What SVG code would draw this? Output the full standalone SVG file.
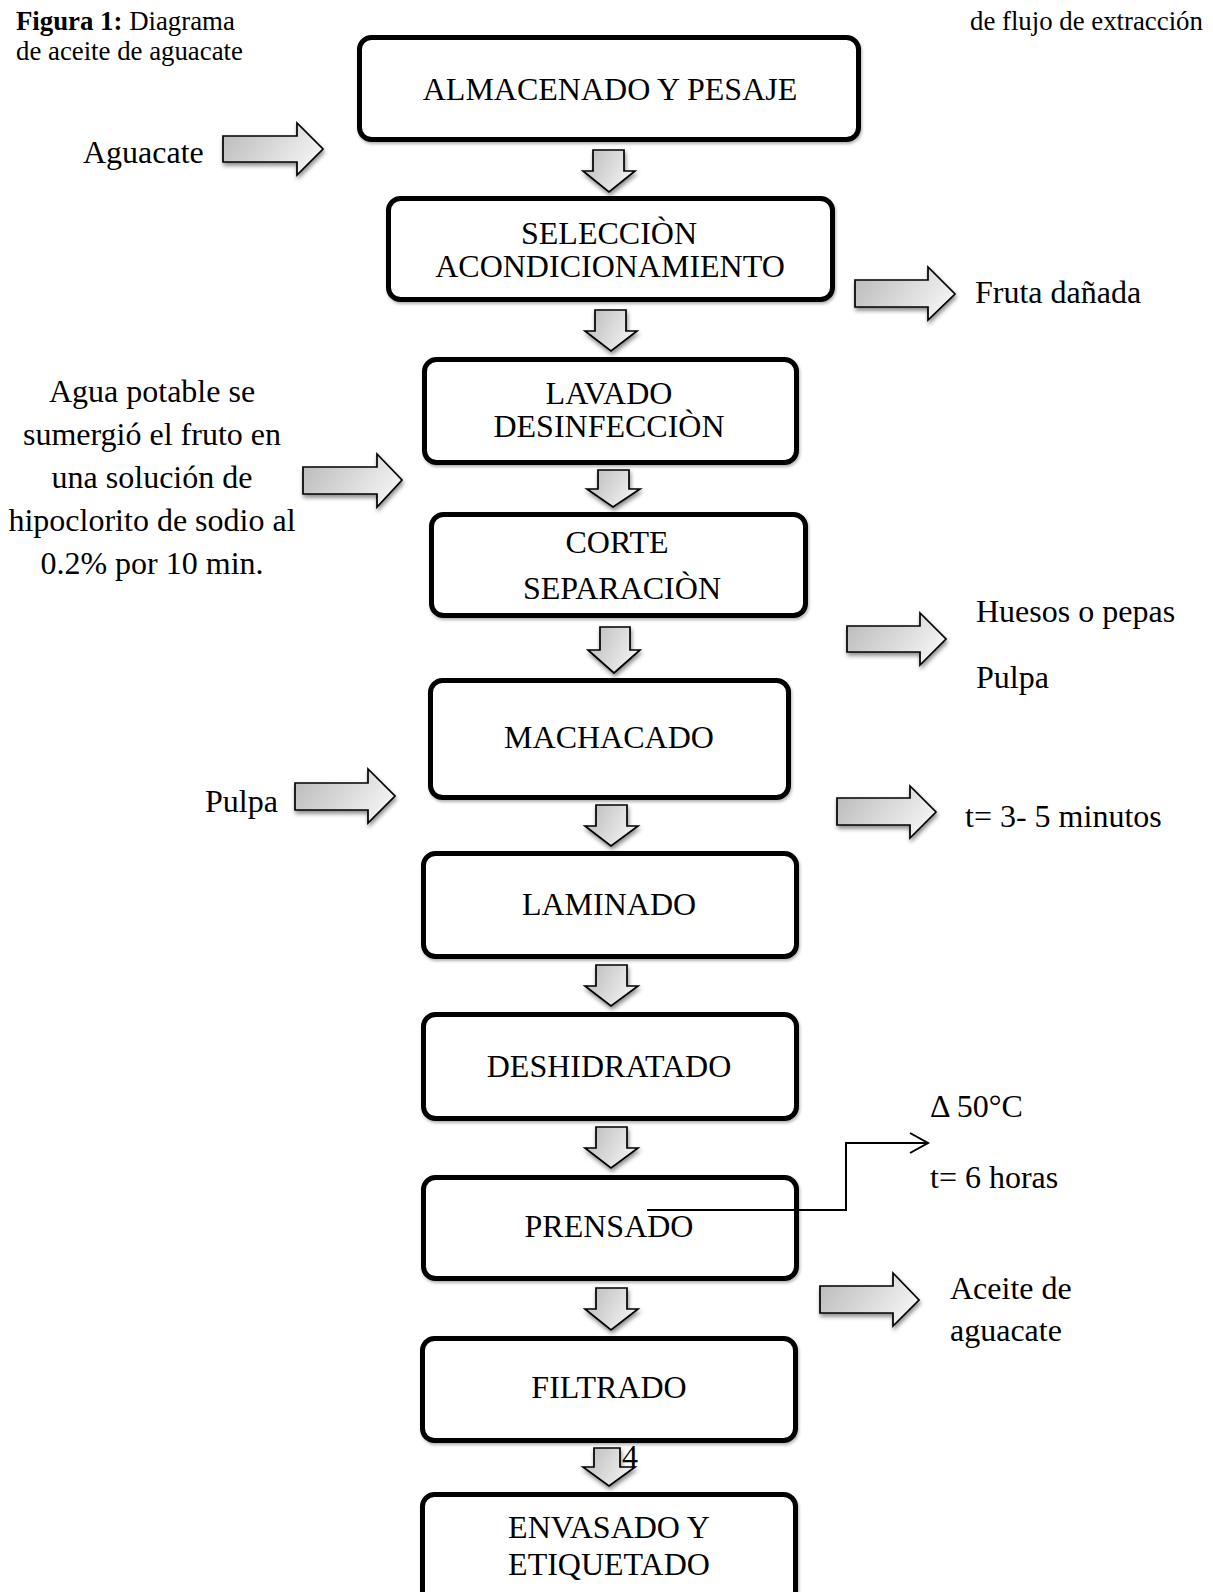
<svg xmlns="http://www.w3.org/2000/svg" width="1213" height="1592" viewBox="0 0 1213 1592">
<defs>
<linearGradient id="g" x1="0" y1="0" x2="1" y2="0.4">
<stop offset="0" stop-color="#b8b8b8"/>
<stop offset="1" stop-color="#f0f0f0"/>
</linearGradient>
<filter id="sh" x="-20%" y="-20%" width="140%" height="150%">
<feDropShadow dx="1" dy="3" stdDeviation="2" flood-color="#000" flood-opacity="0.45"/>
</filter>
<filter id="bs" x="-5%" y="-10%" width="110%" height="125%">
<feDropShadow dx="1" dy="2" stdDeviation="1.5" flood-color="#000" flood-opacity="0.3"/>
</filter>
</defs>
<style>
.box{fill:#fff;stroke:#000;stroke-width:5;filter:url(#bs)}
.ar{fill:url(#g);stroke:#000;stroke-width:1.7;stroke-linejoin:miter;filter:url(#sh)}
.t{font-family:"Liberation Serif","Times New Roman",serif;font-size:32px;fill:#000}
.c{text-anchor:middle}
.cap{font-family:"Liberation Serif","Times New Roman",serif;font-size:26.8px;fill:#000}
.ln{fill:none;stroke:#000;stroke-width:2}
</style>
<rect width="1213" height="1592" fill="#fff"/>

<g id="caption">
<text class="cap" x="16" y="30"><tspan font-weight="bold">Figura 1:</tspan> Diagrama</text>
<text class="cap" x="16" y="60">de aceite de aguacate</text>
<text class="cap" x="970" y="30">de flujo de extracción</text>
</g>

<g id="connectors">
<path class="ar" d="M593 150 H624 V171 H635 L609 192 L583 171 H593 Z"/>
<path class="ar" d="M595 310 H626 V331 H637 L611 351 L585 331 H595 Z"/>
<path class="ar" d="M598 470 H629 V489 H640 L613 507 L587 489 H598 Z"/>
<path class="ar" d="M600 627 H630 V650 H640 L614 673 L588 650 H600 Z"/>
<path class="ar" d="M596 805 H627 V826 H638 L611 846 L585 826 H596 Z"/>
<path class="ar" d="M596 965 H627 V986 H638 L611 1006 L585 986 H596 Z"/>
<path class="ar" d="M596 1127 H627 V1148 H638 L611 1168 L585 1148 H596 Z"/>
<path class="ar" d="M596 1288 H627 V1309 H638 L611 1330 L585 1309 H596 Z"/>
<path class="ar" d="M594 1448 H620 V1467 H635 L609 1486 L583 1467 H594 Z"/>

<path class="ar" d="M223 136 H297 V123 L323 149 L297 175 V162 H223 Z"/>
<path class="ar" d="M855 280 H928 V267 L955 294 L928 320 V307 H855 Z"/>
<path class="ar" d="M303 467 H377 V454 L402 480 L377 507 V494 H303 Z"/>
<path class="ar" d="M847 626 H920 V613 L946 639 L920 665 V652 H847 Z"/>
<path class="ar" d="M295 783 H368 V769 L395 796 L368 823 V810 H295 Z"/>
<path class="ar" d="M837 798 H910 V786 L936 812 L910 838 V825 H837 Z"/>
<path class="ar" d="M820 1286 H893 V1273 L919 1300 L893 1326 V1313 H820 Z"/>
</g>

<g id="n1"><rect class="box" x="359.5" y="37.5" width="499" height="102" rx="12"/>
<text class="t c" x="610" y="100">ALMACENADO Y PESAJE</text></g>

<g id="n2"><rect class="box" x="388.5" y="198.5" width="444" height="101" rx="12"/>
<text class="t c" x="609" y="244">SELECCIÒN</text>
<text class="t c" x="610" y="277">ACONDICIONAMIENTO</text></g>

<g id="n3"><rect class="box" x="424.5" y="359.5" width="372" height="103" rx="12"/>
<text class="t c" x="609" y="404">LAVADO</text>
<text class="t c" x="609" y="437">DESINFECCIÒN</text></g>

<g id="n4"><rect class="box" x="431.5" y="514.5" width="374" height="101" rx="12"/>
<text class="t c" x="617" y="553">CORTE</text>
<text class="t c" x="622" y="599">SEPARACIÒN</text></g>

<g id="n5"><rect class="box" x="430.5" y="680.5" width="358" height="117" rx="12"/>
<text class="t c" x="609" y="748">MACHACADO</text></g>

<g id="n6"><rect class="box" x="423.5" y="853.5" width="373" height="103" rx="12"/>
<text class="t c" x="609" y="915">LAMINADO</text></g>

<g id="n7"><rect class="box" x="423.5" y="1014.5" width="373" height="104" rx="12"/>
<text class="t c" x="609" y="1077">DESHIDRATADO</text></g>

<g id="n8"><rect class="box" x="423.5" y="1177.5" width="373" height="101" rx="12"/>
<text class="t c" x="609" y="1237">PRENSADO</text></g>

<g id="n9"><rect class="box" x="422.5" y="1338.5" width="373" height="102" rx="12"/>
<text class="t c" x="609" y="1398">FILTRADO</text></g>

<g id="n10"><rect class="box" x="422.5" y="1494.5" width="373" height="130" rx="12"/>
<text class="t c" x="609" y="1538">ENVASADO Y</text>
<text class="t c" x="609" y="1575">ETIQUETADO</text></g>

<g id="prensado-link">
<path class="ln" d="M647 1210 H846 V1143 H927"/>
<path class="ln" d="M910 1133 L928 1143 L910 1153"/>
</g>

<g id="labels">
<text class="t" x="83" y="163">Aguacate</text>
<text class="t" x="975" y="303">Fruta dañada</text>
<text class="t c" x="152" y="402">Agua potable se</text>
<text class="t c" x="152" y="445">sumergió el fruto en</text>
<text class="t c" x="152" y="488">una solución de</text>
<text class="t c" x="152" y="531">hipoclorito de sodio al</text>
<text class="t c" x="152" y="574">0.2% por 10 min.</text>
<text class="t" x="976" y="622">Huesos o pepas</text>
<text class="t" x="976" y="688">Pulpa</text>
<text class="t" x="205" y="812">Pulpa</text>
<text class="t" x="965" y="827">t= 3- 5 minutos</text>
<text class="t" x="930" y="1117">Δ 50°C</text>
<text class="t" x="930" y="1188">t= 6 horas</text>
<text class="t" x="950" y="1299">Aceite de</text>
<text class="t" x="950" y="1341">aguacate</text>
<text class="t" x="622" y="1467" font-size="27">4</text>
</g>
</svg>
